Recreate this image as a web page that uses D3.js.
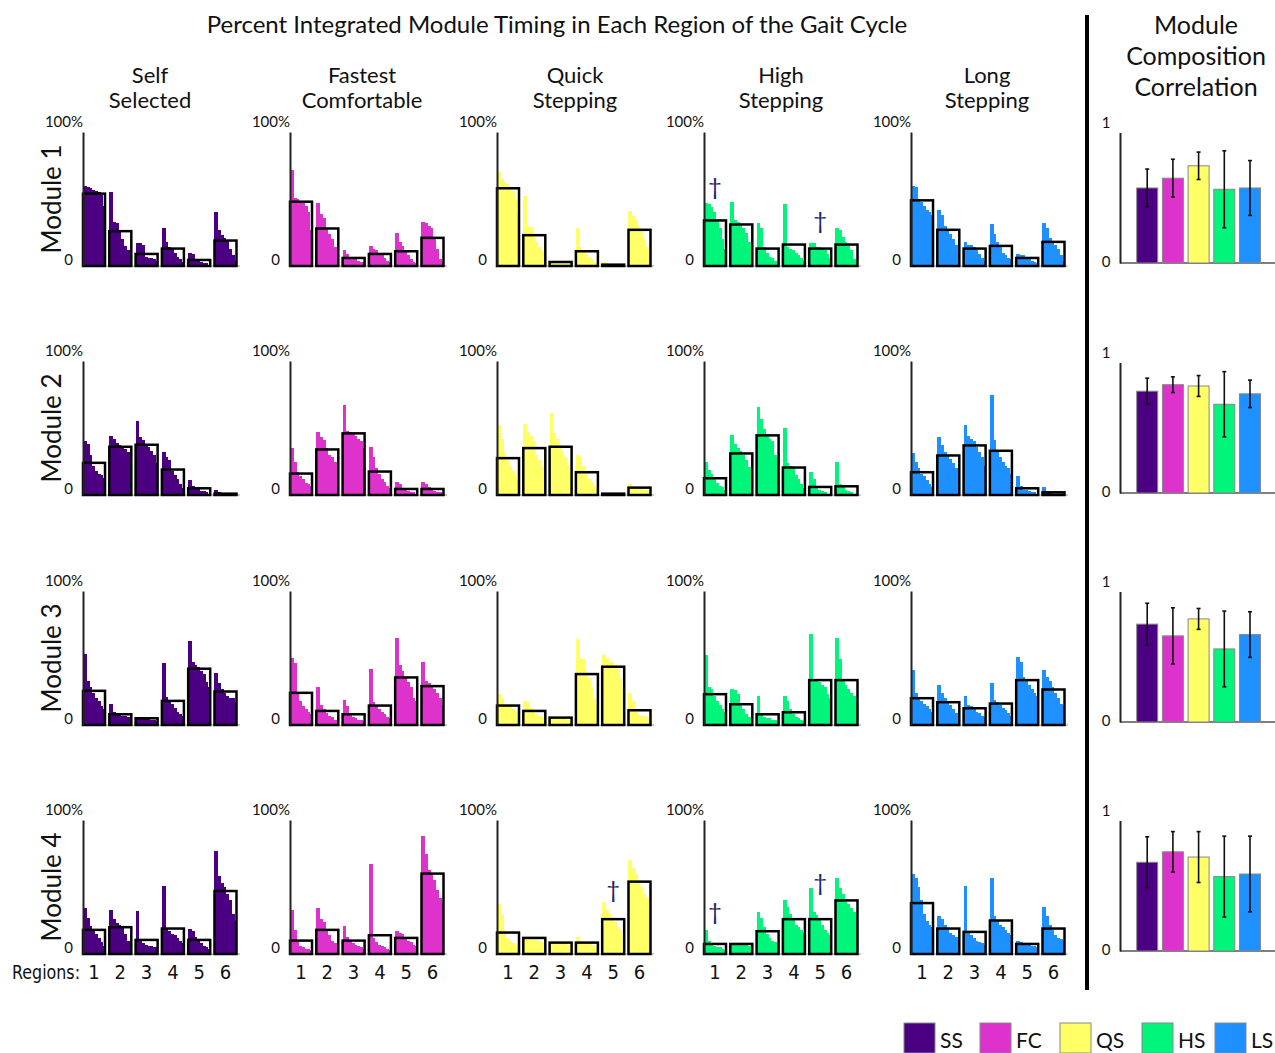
<!DOCTYPE html>
<html><head><meta charset="utf-8">
<script src="https://cdn.jsdelivr.net/npm/d3@7"></script>
<style>body{margin:0;background:#fff} svg{display:block}</style>
</head><body><svg id="c" width="1275" height="1053"></svg>
<script>
// ---------------- DATA ----------------
const conditions = ["SS","FC","QS","HS","LS"];
const conditionTitles = [["Self","Selected"],["Fastest","Comfortable"],["Quick","Stepping"],["High","Stepping"],["Long","Stepping"]];
const colors = ["#4b0082","#dd33cc","#ffff66","#00f57a","#1e90ff"];
const modules = ["Module 1","Module 2","Module 3","Module 4"];
const regions = [1,2,3,4,5,6];
const yTickLabels = ["0","100%"];
const corrTickLabels = ["0","1"];

// mean integrated timing per region (rows: modules 1-4)
const meanSS = [[0.54,0.26,0.09,0.13,0.045,0.19],[0.24,0.36,0.375,0.19,0.05,0.01],[0.255,0.08,0.05,0.18,0.42,0.25],[0.18,0.20,0.105,0.19,0.105,0.47]];
const meanFC = [[0.48,0.28,0.06,0.09,0.11,0.21],[0.16,0.34,0.46,0.175,0.045,0.045],[0.24,0.105,0.08,0.145,0.355,0.29],[0.10,0.18,0.10,0.14,0.12,0.60]];
const meanQS = [[0.58,0.23,0.03,0.11,0.01,0.27],[0.275,0.35,0.36,0.17,0.01,0.055],[0.145,0.105,0.055,0.38,0.435,0.11],[0.16,0.12,0.085,0.085,0.26,0.54]];
const meanHS = [[0.34,0.31,0.13,0.16,0.13,0.16],[0.125,0.31,0.445,0.205,0.06,0.065],[0.23,0.155,0.08,0.095,0.335,0.335],[0.075,0.075,0.17,0.26,0.26,0.40]];
const meanLS = [[0.49,0.27,0.13,0.15,0.06,0.18],[0.17,0.295,0.37,0.33,0.05,0.02],[0.20,0.17,0.125,0.16,0.335,0.265],[0.38,0.19,0.165,0.25,0.075,0.19]];

// individual subjects, sorted, per region
const subjSS_M1 = [[0.60,0.59,0.58,0.57,0.56,0.55,0.53,0.45],[0.55,0.33,0.32,0.26,0.20,0.15,0.12,0.11],[0.17,0.17,0.16,0.07,0.06,0.06,0.05,0.04],[0.28,0.18,0.14,0.13,0.10,0.07,0.05,0.03],[0.10,0.09,0.05,0.04,0.03,0.02,0.02,0.01],[0.40,0.27,0.23,0.21,0.19,0.13,0.08,0.04]];
const subjFC_M1 = [[0.72,0.51,0.50,0.48,0.47,0.45,0.40,0.27],[0.47,0.39,0.36,0.28,0.24,0.20,0.14,0.11],[0.12,0.09,0.07,0.06,0.05,0.04,0.03,0.03],[0.15,0.13,0.12,0.10,0.08,0.06,0.04,0.03],[0.25,0.18,0.15,0.11,0.08,0.05,0.03,0.02],[0.33,0.32,0.30,0.28,0.20,0.13,0.05,0.03]];
const subjQS_M1 = [[0.70,0.65,0.63,0.61,0.58,0.56,0.50,0.40],[0.52,0.30,0.29,0.22,0.18,0.14,0.11,0.07],[0.04,0.04,0.04,0.03,0.03,0.02,0.02,0.02],[0.28,0.14,0.12,0.09,0.07,0.05,0.03,0.02],[0.03,0.02,0.01,0.01,0.01,0.00,0.00,0.00],[0.41,0.37,0.34,0.30,0.27,0.20,0.14,0.10]];
const subjHS_M1 = [[0.47,0.46,0.44,0.40,0.34,0.28,0.20,0.13],[0.48,0.34,0.33,0.31,0.28,0.25,0.18,0.15],[0.32,0.28,0.14,0.10,0.07,0.06,0.04,0.03],[0.46,0.14,0.13,0.12,0.10,0.08,0.06,0.04],[0.17,0.17,0.14,0.14,0.13,0.12,0.09,0.06],[0.28,0.27,0.22,0.18,0.15,0.12,0.05,0.03]];
const subjLS_M1 = [[0.60,0.59,0.50,0.48,0.45,0.42,0.40,0.38],[0.42,0.38,0.30,0.27,0.24,0.20,0.16,0.11],[0.18,0.16,0.16,0.14,0.12,0.09,0.06,0.04],[0.31,0.24,0.18,0.14,0.10,0.08,0.06,0.05],[0.09,0.08,0.08,0.07,0.05,0.04,0.03,0.02],[0.32,0.28,0.21,0.18,0.16,0.13,0.08,0.04]];

const subjSS_M2 = [[0.40,0.38,0.30,0.22,0.18,0.16,0.15,0.13],[0.44,0.42,0.39,0.37,0.36,0.34,0.32,0.24],[0.55,0.43,0.41,0.38,0.36,0.33,0.30,0.24],[0.32,0.28,0.26,0.18,0.15,0.12,0.08,0.05],[0.11,0.07,0.06,0.05,0.03,0.03,0.02,0.01],[0.04,0.02,0.01,0.01,0.01,0.00,0.00,0.00]];
const subjFC_M2 = [[0.35,0.25,0.17,0.14,0.12,0.09,0.08,0.07],[0.47,0.43,0.41,0.35,0.30,0.28,0.25,0.20],[0.67,0.48,0.47,0.46,0.44,0.42,0.40,0.35],[0.36,0.28,0.20,0.16,0.12,0.10,0.07,0.05],[0.10,0.08,0.05,0.04,0.03,0.02,0.02,0.01],[0.10,0.08,0.06,0.04,0.03,0.02,0.02,0.01]];
const subjQS_M2 = [[0.52,0.42,0.32,0.26,0.22,0.18,0.15,0.12],[0.53,0.47,0.44,0.40,0.30,0.26,0.22,0.18],[0.61,0.46,0.42,0.37,0.33,0.28,0.22,0.18],[0.30,0.28,0.22,0.18,0.12,0.10,0.07,0.05],[0.015,0.01,0.01,0.01,0.005,0.005,0,0],[0.08,0.07,0.06,0.06,0.05,0.04,0.04,0.03]];
const subjHS_M2 = [[0.25,0.19,0.16,0.12,0.09,0.07,0.06,0.04],[0.45,0.38,0.35,0.33,0.30,0.26,0.21,0.18],[0.66,0.57,0.49,0.44,0.42,0.40,0.30,0.28],[0.50,0.24,0.22,0.20,0.15,0.12,0.08,0.05],[0.17,0.12,0.06,0.04,0.03,0.02,0.01,0.01],[0.25,0.08,0.06,0.04,0.03,0.02,0.01,0.01]];
const subjLS_M2 = [[0.31,0.25,0.20,0.16,0.14,0.11,0.08,0.06],[0.43,0.37,0.32,0.30,0.27,0.24,0.20,0.17],[0.52,0.44,0.42,0.40,0.36,0.32,0.28,0.22],[0.75,0.41,0.33,0.28,0.25,0.22,0.20,0.16],[0.14,0.07,0.04,0.04,0.03,0.02,0.02,0.01],[0.06,0.03,0.02,0.01,0.01,0.01,0,0]];

const subjSS_M3 = [[0.53,0.33,0.28,0.24,0.20,0.18,0.14,0.12],[0.16,0.10,0.09,0.08,0.07,0.07,0.06,0.04],[0.06,0.06,0.05,0.05,0.05,0.04,0.04,0.03],[0.46,0.21,0.19,0.16,0.13,0.10,0.08,0.07],[0.63,0.47,0.45,0.43,0.40,0.38,0.32,0.28],[0.39,0.31,0.27,0.24,0.22,0.20,0.20,0.17]];
const subjFC_M3 = [[0.50,0.46,0.25,0.18,0.14,0.12,0.10,0.08],[0.28,0.15,0.12,0.09,0.07,0.06,0.04,0.03],[0.19,0.14,0.09,0.06,0.05,0.04,0.04,0.03],[0.42,0.17,0.14,0.12,0.10,0.08,0.06,0.05],[0.65,0.45,0.40,0.36,0.32,0.28,0.20,0.18],[0.47,0.33,0.31,0.29,0.27,0.24,0.20,0.15]];
const subjQS_M3 = [[0.23,0.20,0.16,0.15,0.14,0.12,0.10,0.08],[0.18,0.17,0.13,0.10,0.08,0.07,0.06,0.05],[0.07,0.06,0.06,0.05,0.05,0.05,0.04,0.04],[0.64,0.50,0.49,0.40,0.35,0.28,0.20,0.15],[0.52,0.50,0.48,0.47,0.45,0.42,0.35,0.28],[0.24,0.18,0.10,0.08,0.07,0.07,0.06,0.05]];
const subjHS_M3 = [[0.52,0.28,0.27,0.22,0.18,0.15,0.12,0.10],[0.27,0.26,0.23,0.16,0.12,0.08,0.06,0.05],[0.22,0.08,0.06,0.05,0.05,0.04,0.04,0.03],[0.22,0.18,0.12,0.08,0.06,0.05,0.04,0.03],[0.68,0.34,0.33,0.32,0.30,0.28,0.23,0.20],[0.65,0.49,0.33,0.30,0.27,0.24,0.22,0.18]];
const subjLS_M3 = [[0.41,0.24,0.20,0.18,0.16,0.14,0.12,0.10],[0.30,0.24,0.20,0.17,0.15,0.12,0.09,0.07],[0.22,0.15,0.14,0.12,0.10,0.09,0.07,0.06],[0.31,0.19,0.17,0.15,0.13,0.11,0.09,0.07],[0.51,0.47,0.36,0.33,0.30,0.27,0.24,0.22],[0.41,0.36,0.33,0.28,0.24,0.20,0.16,0.14]];

const subjSS_M4 = [[0.34,0.27,0.21,0.18,0.15,0.12,0.09,0.06],[0.33,0.26,0.23,0.22,0.20,0.15,0.10,0.07],[0.32,0.10,0.08,0.07,0.06,0.06,0.05,0.05],[0.51,0.19,0.17,0.15,0.14,0.12,0.10,0.08],[0.19,0.17,0.13,0.10,0.08,0.06,0.05,0.04],[0.77,0.58,0.53,0.50,0.45,0.40,0.30,0.25]];
const subjFC_M4 = [[0.33,0.18,0.09,0.06,0.05,0.04,0.04,0.03],[0.34,0.26,0.24,0.18,0.14,0.10,0.08,0.06],[0.21,0.13,0.10,0.08,0.07,0.06,0.05,0.04],[0.67,0.12,0.09,0.07,0.06,0.05,0.04,0.03],[0.17,0.16,0.15,0.12,0.10,0.09,0.07,0.06],[0.88,0.75,0.63,0.60,0.55,0.48,0.42,0.38]];
const subjQS_M4 = [[0.37,0.29,0.18,0.12,0.10,0.08,0.07,0.06],[0.13,0.13,0.12,0.12,0.11,0.10,0.09,0.08],[0.10,0.10,0.09,0.09,0.08,0.08,0.07,0.06],[0.13,0.10,0.09,0.08,0.08,0.07,0.07,0.06],[0.39,0.33,0.30,0.27,0.24,0.20,0.18,0.15],[0.70,0.64,0.60,0.55,0.50,0.45,0.42,0.40]];
const subjHS_M4 = [[0.18,0.10,0.07,0.06,0.05,0.05,0.04,0.03],[0.08,0.08,0.08,0.07,0.07,0.07,0.06,0.06],[0.31,0.27,0.20,0.15,0.12,0.10,0.09,0.08],[0.40,0.35,0.30,0.26,0.22,0.20,0.18,0.16],[0.49,0.31,0.29,0.26,0.22,0.18,0.16,0.14],[0.57,0.49,0.45,0.40,0.37,0.34,0.31,0.28]];
const subjLS_M4 = [[0.60,0.57,0.50,0.40,0.30,0.25,0.22,0.20],[0.28,0.26,0.22,0.19,0.16,0.14,0.13,0.12],[0.51,0.16,0.14,0.12,0.10,0.09,0.08,0.07],[0.57,0.28,0.25,0.22,0.20,0.18,0.16,0.14],[0.10,0.09,0.08,0.08,0.07,0.06,0.06,0.05],[0.35,0.28,0.22,0.18,0.14,0.12,0.11,0.10]];

// module composition correlation: mean and error half-width (rows: modules; cols: SS FC QS HS LS)
const corrMean = [[0.575,0.65,0.745,0.565,0.575],[0.78,0.83,0.82,0.68,0.76],[0.75,0.66,0.79,0.56,0.67],[0.68,0.76,0.72,0.57,0.59]];
const corrErr  = [[0.145,0.145,0.105,0.295,0.21],[0.10,0.06,0.08,0.25,0.105],[0.16,0.215,0.08,0.29,0.175],[0.195,0.155,0.195,0.31,0.29]];

// significance markers (dagger) placed at a level on the percent axis
const daggerCond   = ["HS","HS","QS","HS","HS"];
const daggerModule = [1,1,4,4,4];
const daggerRegion = [1,5,5,1,5];
const daggerLevel  = [0.59,0.336,0.478,0.313,0.53];

// ---------------- BUILD ----------------
const means = {SS:meanSS, FC:meanFC, QS:meanQS, HS:meanHS, LS:meanLS};
const subj = {
  SS:[subjSS_M1,subjSS_M2,subjSS_M3,subjSS_M4],
  FC:[subjFC_M1,subjFC_M2,subjFC_M3,subjFC_M4],
  QS:[subjQS_M1,subjQS_M2,subjQS_M3,subjQS_M4],
  HS:[subjHS_M1,subjHS_M2,subjHS_M3,subjHS_M4],
  LS:[subjLS_M1,subjLS_M2,subjLS_M3,subjLS_M4]
};
const FONT = "Lato, 'Open Sans', sans-serif";
const COND_FONT = "'DejaVu Sans Condensed', 'Liberation Sans Narrow', sans-serif";
const svg = d3.select("#c");

const colX = [83,290,497,704,911];
const rowZero = [266,495,725,954];
const plotH = 134;
const y = d3.scaleLinear().domain([0,1]).range([plotH,0]);
const x = d3.scaleBand().domain(regions).range([0,153.5]).paddingInner(0.163).paddingOuter(0);
const sx = d3.scaleBand().domain(d3.range(8)).range([0,x.bandwidth()]);

// title
svg.append("text").attr("x",557).attr("y",33).attr("text-anchor","middle")
  .attr("font-family",FONT).attr("font-size",24).attr("fill","#111")
  .text("Percent Integrated Module Timing in Each Region of the Gait Cycle");

// column headers
const headerOffset = [67,72,78,77,76];
conditions.forEach((c,ci)=>{
  const t = svg.append("text").attr("text-anchor","middle").attr("font-family",FONT)
    .attr("font-size",22).attr("fill","#111");
  conditionTitles[ci].forEach((ln,li)=>{
    t.append("tspan").attr("x",colX[ci]+headerOffset[ci]).attr("y",83+li*25).text(ln);
  });
});

// module labels
modules.forEach((m,mi)=>{
  svg.append("text").attr("transform",`translate(61,${rowZero[mi]-plotH/2}) rotate(-90)`)
    .attr("text-anchor","middle").attr("font-family",FONT).attr("font-size",26).attr("fill","#111")
    .text(m);
});

// panels
modules.forEach((m,mi)=>{
  conditions.forEach((c,ci)=>{
    const g = svg.append("g").attr("transform",`translate(${colX[ci]},${rowZero[mi]-plotH})`);
    // baseline
    g.append("line").attr("x1",0).attr("x2",157).attr("y1",plotH).attr("y2",plotH)
      .attr("stroke","#bbb").attr("stroke-width",1.5);
    // subject bars
    const data = subj[c][mi];
    regions.forEach((r,ri)=>{
      g.append("g").attr("shape-rendering","crispEdges")
        .selectAll("rect").data(data[ri]).join("rect")
        .attr("x",(v,j)=>x(r)+sx(j))
        .attr("width",(v,j)=> j < 7 ? sx.step()+1 : sx.step())
        .attr("y",v=>y(v))
        .attr("height",v=>plotH-y(v))
        .attr("fill",colors[ci]);
    });
    // mean outlines
    g.selectAll("rect.mean").data(means[c][mi]).join("rect").attr("class","mean")
      .attr("x",(v,i)=>x(regions[i]))
      .attr("width",x.bandwidth())
      .attr("y",v=>y(v))
      .attr("height",v=>plotH-y(v))
      .attr("fill","none").attr("stroke","#000").attr("stroke-width",2.5);
    // axis
    const ax = g.append("g").call(d3.axisLeft(y).tickValues([]).tickSizeOuter(0));
    ax.select(".domain").attr("stroke","#222").attr("stroke-width",2);
    g.append("text").attr("x",0).attr("y",y(1)-5).attr("text-anchor","end")
      .attr("font-family",FONT).attr("font-size",15).attr("fill","#111").text(yTickLabels[1]);
    g.append("text").attr("x",-10).attr("y",y(0)-1).attr("text-anchor","end")
      .attr("font-family",FONT).attr("font-size",15).attr("fill","#111").text(yTickLabels[0]);
    // region labels on last row
    if (mi === modules.length-1) {
      g.selectAll("text.reg").data(regions).join("text").attr("class","reg")
        .attr("x",r=>x(r)+x.bandwidth()/2).attr("y",plotH+25).attr("text-anchor","middle")
        .attr("font-family",COND_FONT).attr("font-size",20).attr("fill","#111").text(r=>r);
    }
  });
});
// "Regions:" label
svg.append("text").attr("x",12).attr("y",rowZero[3]+25)
  .attr("font-family",COND_FONT).attr("font-size",20).attr("fill","#111")
  .attr("textLength",68).attr("lengthAdjust","spacingAndGlyphs").text("Regions:");

// daggers
daggerCond.forEach((c,i)=>{
  const ci = conditions.indexOf(c), mi = daggerModule[i]-1;
  svg.append("text")
    .attr("x",colX[ci]+x(daggerRegion[i])+x.bandwidth()/2)
    .attr("y",rowZero[mi]-plotH+y(daggerLevel[i]))
    .attr("dy","0.35em").attr("text-anchor","middle")
    .attr("font-family",FONT).attr("font-size",24).attr("fill","#1a2466").text("\u2020");
});

// divider
svg.append("line").attr("x1",1087).attr("x2",1087).attr("y1",15).attr("y2",990)
  .attr("stroke","#000").attr("stroke-width",4);

// right header
const rh = svg.append("text").attr("text-anchor","middle").attr("font-family",FONT)
  .attr("font-size",25).attr("fill","#111");
["Module","Composition","Correlation"].forEach((ln,i)=>{
  rh.append("tspan").attr("x",1196).attr("y",34+i*31).text(ln);
});

// correlation panels
const rZero = [263,493,722,951];
const rH = 130.5;
const yr = d3.scaleLinear().domain([0,1]).range([rH,0]);
const xr = d3.scaleBand().domain(conditions).range([16.7,140.5]).paddingInner(0.183).paddingOuter(0);
modules.forEach((m,mi)=>{
  const g = svg.append("g").attr("transform",`translate(1120,${rZero[mi]-rH})`);
  g.append("line").attr("x1",0).attr("x2",155).attr("y1",rH).attr("y2",rH)
    .attr("stroke","#555").attr("stroke-width",1.5);
  g.selectAll("rect").data(corrMean[mi]).join("rect")
    .attr("x",(v,i)=>xr(conditions[i])).attr("width",xr.bandwidth())
    .attr("y",v=>yr(v)).attr("height",v=>rH-yr(v))
    .attr("fill",(v,i)=>colors[i]).attr("stroke","#888").attr("stroke-width",1);
  corrMean[mi].forEach((v,i)=>{
    const cx = xr(conditions[i])+xr.bandwidth()/2;
    const e = corrErr[mi][i];
    g.append("line").attr("x1",cx).attr("x2",cx).attr("y1",yr(v-e)).attr("y2",yr(v+e))
      .attr("stroke","#111").attr("stroke-width",1.6);
    [v-e,v+e].forEach(t=>g.append("line").attr("x1",cx-2).attr("x2",cx+2)
      .attr("y1",yr(t)).attr("y2",yr(t)).attr("stroke","#111").attr("stroke-width",1.6));
  });
  const ax = g.append("g").call(d3.axisLeft(yr).tickValues([]).tickSizeOuter(0));
  ax.select(".domain").attr("stroke","#222").attr("stroke-width",2);
  g.append("text").attr("x",-14).attr("y",yr(1)-5).attr("text-anchor","middle")
    .attr("font-family",FONT).attr("font-size",15).attr("fill","#111").text(corrTickLabels[1]);
  g.append("text").attr("x",-14).attr("y",yr(0)+4).attr("text-anchor","middle")
    .attr("font-family",FONT).attr("font-size",15).attr("fill","#111").text(corrTickLabels[0]);
});

// legend
const legendX = [904,980,1060,1142,1215];
conditions.forEach((c,i)=>{
  svg.append("rect").attr("x",legendX[i]).attr("y",1023).attr("width",31).attr("height",30)
    .attr("fill",colors[i]).attr("stroke","#888").attr("stroke-width",1);
  svg.append("text").attr("x",legendX[i]+36).attr("y",1048).attr("font-family",FONT)
    .attr("font-size",21).attr("fill","#111").text(c);
});
</script></body></html>
